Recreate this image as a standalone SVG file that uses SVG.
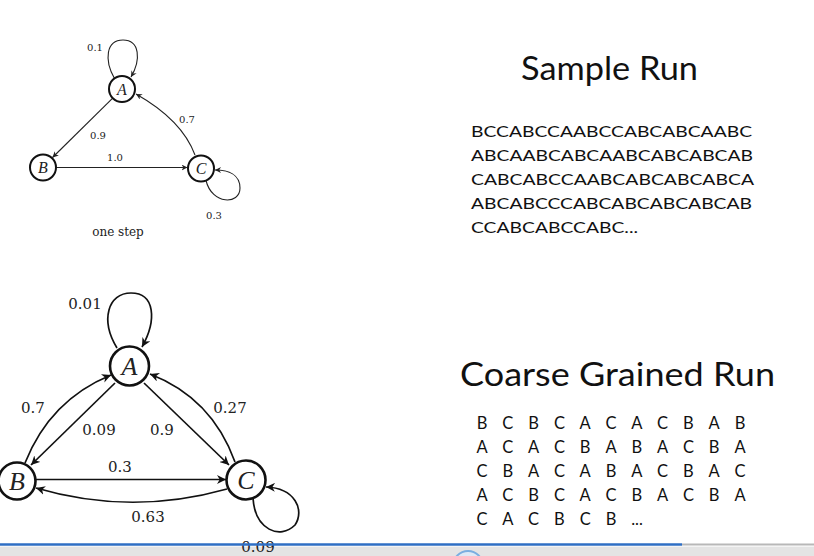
<svg xmlns="http://www.w3.org/2000/svg" width="814" height="556" viewBox="0 0 814 556">
<style>
.node{fill:#fff;stroke:#111}
.n1{stroke-width:2}
.n2{stroke-width:2.6}
.e1{fill:none;stroke:#222;stroke-width:1.1}
.e2{fill:none;stroke:#111;stroke-width:1.7}
.lab1{font-family:"DejaVu Serif","Liberation Serif",serif;font-size:10px;fill:#222;text-anchor:middle}
.lab2{font-family:"DejaVu Serif","Liberation Serif",serif;font-size:15px;fill:#222;text-anchor:middle}
.nl1{font-family:"Liberation Serif",serif;font-style:italic;font-size:16px;fill:#222;text-anchor:middle}
.nl2{font-family:"Liberation Serif",serif;font-style:italic;font-size:26px;fill:#222;text-anchor:middle}
.title{font-family:Lato,"Open Sans",sans-serif;font-size:33px;fill:#111}
.seq{font-family:Lato,"Open Sans",sans-serif;font-size:16px;fill:#111}
.cg{font-family:Lato,"Open Sans",sans-serif;font-size:16.5px;fill:#111;text-anchor:middle}
</style>
<defs>
<marker id="a1" viewBox="0 0 10 10" refX="10" refY="5" markerWidth="6" markerHeight="6" markerUnits="userSpaceOnUse" orient="auto">
<path d="M0,0 L10,5 L0,10 L3,5 Z" fill="#222"/>
</marker>
<marker id="a2" viewBox="0 0 10 10" refX="10" refY="5" markerWidth="9" markerHeight="9" markerUnits="userSpaceOnUse" orient="auto">
<path d="M0,0 L10,5 L0,10 L3,5 Z" fill="#111"/>
</marker>
</defs>
<rect width="814" height="556" fill="#fff"/>

<g id="connectors">
<path class="e1" d="M114.5,78.4 C104,60 106,40 123,40 C140,40 141,60 131,77" marker-end="url(#a1)"/>
<path class="e1" d="M112.7,98.1 L52.5,157.5" marker-end="url(#a1)"/>
<path class="e1" d="M56,167.5 L187.5,167.5" marker-end="url(#a1)"/>
<path class="e1" d="M195,155 Q182,120 136,94" marker-end="url(#a1)"/>
<path class="e1" d="M206,180.5 C212,205 240,205 240,188 C240,175 229,170 215,170" marker-end="url(#a1)"/>

<path class="e2" d="M117,348 C100,320 108,293 131,293 C155,293 157,320 142,347" marker-end="url(#a2)"/>
<path class="e2" d="M25,463 Q50,400 111,375" marker-end="url(#a2)"/>
<path class="e2" d="M115,383 L31,465" marker-end="url(#a2)"/>
<path class="e2" d="M144,383 L229,465" marker-end="url(#a2)"/>
<path class="e2" d="M235,462 Q212,398 150,374" marker-end="url(#a2)"/>
<path class="e2" d="M36,479.5 L226,479.5" marker-end="url(#a2)"/>
<path class="e2" d="M227,489 Q131,516 36,488" marker-end="url(#a2)"/>
<path class="e2" d="M253,498 C255,530 280,540 295,525 C305,510 295,488 266,487" marker-end="url(#a2)"/>
</g>

<g id="edge-labels">
<text class="lab1" x="95" y="51">0.1</text>
<text class="lab1" x="98" y="139">0.9</text>
<text class="lab1" x="115" y="161">1.0</text>
<text class="lab1" x="187" y="123">0.7</text>
<text class="lab1" x="214" y="219">0.3</text>
<text x="118" y="236" style="font-family:'DejaVu Serif','Liberation Serif',serif;font-size:12px;fill:#222;text-anchor:middle">one step</text>

<text class="lab2" x="85" y="309">0.01</text>
<text class="lab2" x="33" y="413">0.7</text>
<text class="lab2" x="99" y="435">0.09</text>
<text class="lab2" x="162" y="435">0.9</text>
<text class="lab2" x="230" y="413">0.27</text>
<text class="lab2" x="120" y="472">0.3</text>
<text class="lab2" x="148" y="522">0.63</text>
</g>

<g id="node-A1"><circle class="node n1" cx="122" cy="89" r="13"/><text class="nl1" x="122" y="95">A</text></g>
<g id="node-B1"><circle class="node n1" cx="43" cy="167.5" r="13"/><text class="nl1" x="43" y="173">B</text></g>
<g id="node-C1"><circle class="node n1" cx="201" cy="168.5" r="13"/><text class="nl1" x="201" y="174">C</text></g>

<g id="node-A2"><circle class="node n2" cx="129.5" cy="366" r="19.5"/><text class="nl2" x="129.5" y="375">A</text></g>
<g id="node-B2"><circle class="node n2" cx="17" cy="481" r="18.5"/><text class="nl2" x="17" y="490">B</text></g>
<g id="node-C2"><circle class="node n2" cx="246" cy="480" r="19.5"/><text class="nl2" x="246" y="489">C</text></g>

<g id="sample-run">
<text class="title" x="521" y="80" textLength="177" lengthAdjust="spacingAndGlyphs">Sample Run</text>
<text class="seq" x="471" y="137" textLength="281" lengthAdjust="spacingAndGlyphs">BCCABCCAABCCABCABCAABC</text>
<text class="seq" x="471" y="161" textLength="282" lengthAdjust="spacingAndGlyphs">ABCAABCABCAABCABCABCAB</text>
<text class="seq" x="471" y="185" textLength="283" lengthAdjust="spacingAndGlyphs">CABCABCCAABCABCABCABCA</text>
<text class="seq" x="471" y="209" textLength="281" lengthAdjust="spacingAndGlyphs">ABCABCCCABCABCABCABCAB</text>
<text class="seq" x="471" y="233" textLength="167" lengthAdjust="spacingAndGlyphs">CCABCABCCABC...</text>
</g>

<g id="coarse-run">
<text class="title" x="460" y="386" textLength="315" lengthAdjust="spacingAndGlyphs">Coarse Grained Run</text>
<text class="cg" x="482 507.8 533.6 559.4 585.2 611 636.8 662.6 688.4 714.2 740" y="429">BCBCACACBAB</text>
<text class="cg" x="482 507.8 533.6 559.4 585.2 611 636.8 662.6 688.4 714.2 740" y="453">ACACBABACBA</text>
<text class="cg" x="482 507.8 533.6 559.4 585.2 611 636.8 662.6 688.4 714.2 740" y="477">CBACABACBAC</text>
<text class="cg" x="482 507.8 533.6 559.4 585.2 611 636.8 662.6 688.4 714.2 740" y="501">ACBCACBACBA</text>
<text class="cg" x="482 507.8 533.6 559.4 585.2 611" y="525">CACBCB</text>
<text class="cg" x="637" y="525">...</text>
</g>

<g id="bottom-bar">
<rect x="0" y="546" width="814" height="10" fill="#e4e4e4"/>
<line x1="0" y1="546.5" x2="814" y2="546.5" stroke="#f4f4f4" stroke-width="1"/>
<circle cx="468" cy="566" r="15" fill="#dde9f6" stroke="#7aaee0" stroke-width="2"/>
<text class="lab2" x="258" y="552">0.09</text>
<line x1="682" y1="544.5" x2="814" y2="544.5" stroke="#b8b8b8" stroke-width="2"/>
<line x1="0" y1="544.5" x2="682" y2="544.5" stroke="#2f6fc4" stroke-width="2.4"/>
</g>
</svg>
